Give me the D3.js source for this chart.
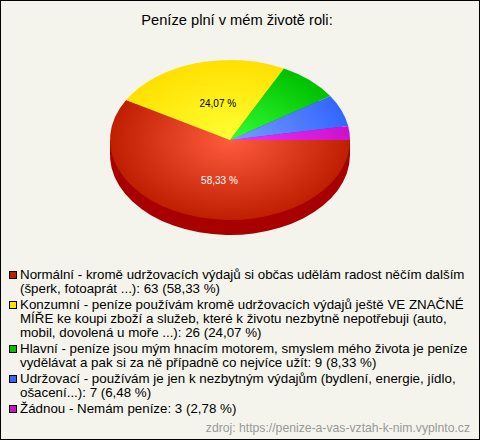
<!DOCTYPE html>
<html><head><meta charset="utf-8">
<script src="https://cdn.jsdelivr.net/npm/d3@7/dist/d3.min.js"></script>
<style>html,body{margin:0;padding:0;background:#f4f4ec}svg{display:block}text{font-family:"Liberation Sans",Arial,sans-serif}</style>
</head><body><svg id="c" width="480" height="440"></svg>
<script>
const title = "Peníze plní v mém životě roli:";
const categories = ["Normální","Konzumní","Hlavní","Udržovací","Žádnou"];
const values = [63,26,9,7,3];
const sliceLabels = ["58,33 %","24,07 %","","",""];
const legendLines = [
 ["Normální - kromě udržovacích výdajů si občas udělám radost něčím dalším","(šperk, fotoaprát ...): 63 (58,33 %)"],
 ["Konzumní - peníze používám kromě udržovacích výdajů ještě VE ZNAČNÉ","MÍŘE ke koupi zboží a služeb, které k životu nezbytně nepotřebuji (auto,","mobil, dovolená u moře ...): 26 (24,07 %)"],
 ["Hlavní - peníze jsou mým hnacím motorem, smyslem mého života je peníze","vydělávat a pak si za ně případně co nejvíce užít: 9 (8,33 %)"],
 ["Udržovací - používám je jen k nezbytným výdajům (bydlení, energie, jídlo,","ošacení...): 7 (6,48 %)"],
 ["Žádnou - Nemám peníze: 3 (2,78 %)"]
];
const centerColors = ["#ff5c3e","#ffff33","#33ff33","#7a9cff","#ee33ff"];
const edgeColors = ["#bf1e00","#ffe000","#00c000","#3366ff","#cc11cc"];
const sideColors = ["#a80000","#b0a000","#008000","#2244b0","#880088"];
const swatchColors = ["#bf1e00","#ffe000","#00c000","#3366ff","#cc11cc"];
const sourceNote = "zdroj: https://penize-a-vas-vztah-k-nim.vyplnto.cz";

const W=480,H=440,cx=230,cy=140,rx=120,ry=80,depth=15;
const svg=d3.select("#c");
svg.append("rect").attr("x",0.5).attr("y",0.5).attr("width",W-1).attr("height",H-1).attr("fill","#f4f4ec").attr("stroke","#000").attr("stroke-width",1);
svg.append("text").attr("x",237).attr("y",25).attr("text-anchor","middle").attr("font-size",14.67).attr("fill","#000").text(title);

const pie=d3.pie().sort(null).startAngle(Math.PI/2).endAngle(Math.PI/2+2*Math.PI);
const arcs=pie(values);
const arc=d3.arc().innerRadius(0).outerRadius(rx);
const defs=svg.append("defs");
centerColors.forEach((c,i)=>{
  const g=defs.append("radialGradient").attr("id","g"+i).attr("gradientUnits","userSpaceOnUse").attr("cx",0).attr("cy",0).attr("r",rx);
  g.append("stop").attr("offset","0%").attr("stop-color",c);
  g.append("stop").attr("offset","100%").attr("stop-color",edgeColors[i]);
});
const sy=ry/rx;
// side wall
const sideG=svg.append("g").attr("transform",`translate(${cx},${cy+depth}) scale(1,${sy})`);
sideG.selectAll("path").data(arcs).join("path").attr("d",arc).attr("fill",(d,i)=>sideColors[i]);
svg.append("rect").attr("x",cx-rx).attr("y",cy).attr("width",2*rx).attr("height",depth).attr("fill",sideColors[0]);
// top
const topG=svg.append("g").attr("transform",`translate(${cx},${cy}) scale(1,${sy})`);
topG.selectAll("path").data(arcs).join("path").attr("d",arc).attr("fill",(d,i)=>`url(#g${i})`);
// slice labels
const labelArc=d3.arc().innerRadius(rx*0.5).outerRadius(rx*0.5);
svg.selectAll("text.sl").data(arcs.filter((d,i)=>sliceLabels[i])).join("text").attr("class","sl")
  .attr("x",d=>cx+5+labelArc.centroid(d)[0]).attr("y",d=>cy+labelArc.centroid(d)[1]*sy+5.5)
  .attr("text-anchor","middle").attr("font-size",10)
  .attr("fill",d=>d.index===0?"#fff":"#000").text(d=>sliceLabels[d.index]);
// legend
let y=279;
legendLines.forEach((lines,i)=>{
  svg.append("rect").attr("x",9.5).attr("y",Math.round(y-8)+.5).attr("width",7).attr("height",7).attr("fill",swatchColors[i]).attr("stroke","#000");
  lines.forEach((t,j)=>{
    svg.append("text").attr("x",20).attr("y",Math.round(y+j*14)).attr("font-size",13.33).attr("fill","#000").text(t);
  });
  y+=lines.length*14+2;
});
svg.append("text").attr("x",470).attr("y",432).attr("text-anchor","end").attr("font-size",12.2).attr("fill","#999").text(sourceNote);
</script></body></html>
